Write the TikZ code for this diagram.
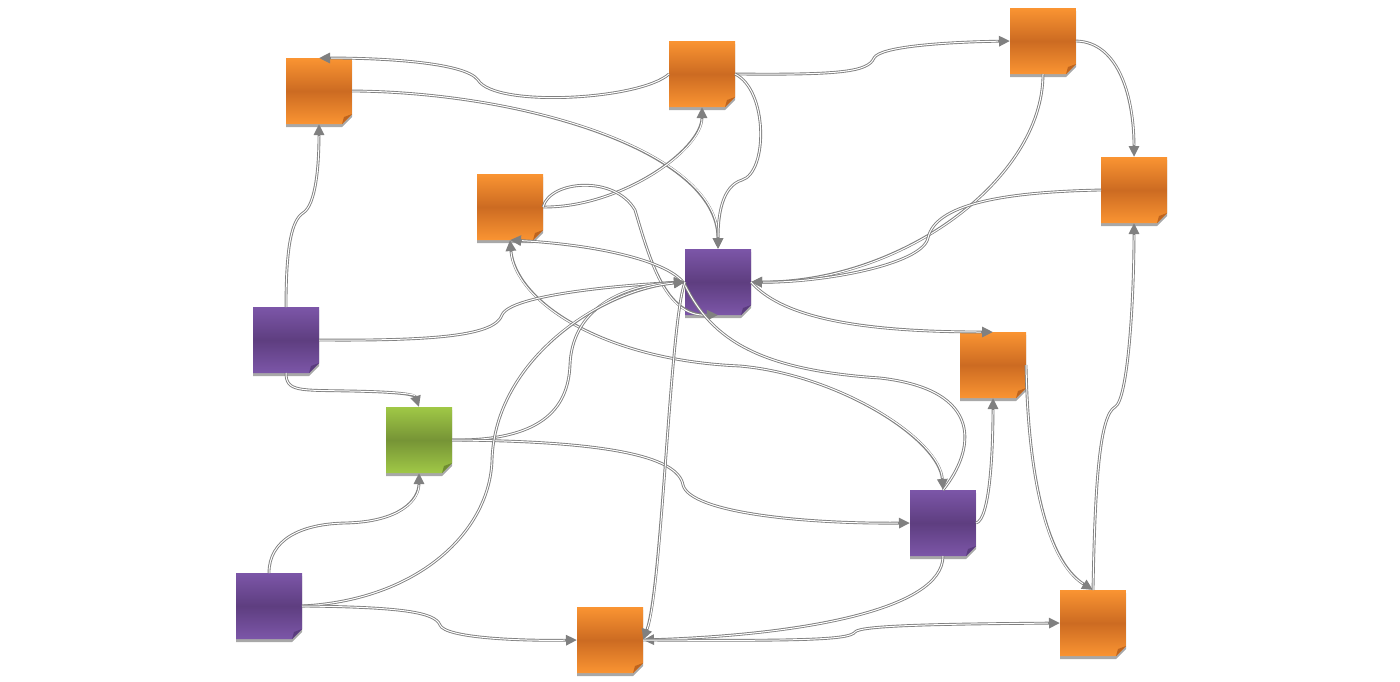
\documentclass[tikz,border=0pt]{standalone}
\usetikzlibrary{arrows.meta}
\pgfdeclarelayer{edges}
\pgfsetlayers{main,edges}
\definecolor{egray}{RGB}{128,128,128}
\definecolor{orT}{RGB}{250,148,50}
\definecolor{orM}{RGB}{204,107,34}
\definecolor{orF}{RGB}{190,100,30}
\definecolor{puT}{RGB}{124,86,168}
\definecolor{puM}{RGB}{94,62,128}
\definecolor{puF}{RGB}{90,60,125}
\definecolor{grT}{RGB}{160,200,70}
\definecolor{grM}{RGB}{118,148,54}
\definecolor{grF}{RGB}{110,140,50}
\definecolor{shd}{RGB}{168,168,168}
\tikzset{
  note/.style={minimum width=66pt, minimum height=66pt, inner sep=0pt, outer sep=0pt},
  conn/.style={draw=egray, line width=2.8pt, -{Triangle[length=11pt,width=10pt]},
    postaction={draw=white, line width=1pt, -, shorten >=12pt}},
  conntwo/.style={draw=egray, line width=2.8pt, {Triangle[length=11pt,width=10pt]}-{Triangle[length=11pt,width=10pt]},
    postaction={draw=white, line width=1pt, -, shorten >=12pt, shorten <=12pt}},
}
\newcommand\drawnote[4]{% name, top color, mid color, fold color
  \fill[shd] ([yshift=-3pt]#1.north west) -- ([yshift=-3pt]#1.north east) -- ([yshift=7pt]#1.south east)
     -- ([xshift=-10pt,yshift=-3pt]#1.south east) -- ([yshift=-3pt]#1.south west) -- cycle;
  \shade[top color=#2, bottom color=#2, middle color=#3] (#1.north west) -- (#1.north east)
     -- ([yshift=10pt]#1.south east) -- ([xshift=-10pt]#1.south east) -- (#1.south west) -- cycle;
  \fill[#4] ([yshift=10pt]#1.south east) -- ([xshift=-10pt]#1.south east) -- ([xshift=-8pt,yshift=7pt]#1.south east) -- cycle;
}
\begin{document}
\begin{tikzpicture}[x=1pt,y=-1pt]
\useasboundingbox (0,0) rectangle (1400,681);
% nodes
\node[note] (A) at (319,91) {};
\node[note] (B) at (702,74) {};
\node[note] (C) at (1043,41) {};
\node[note] (D) at (1134,190) {};
\node[note] (E) at (510,207) {};
\node[note] (F) at (718,282) {};
\node[note] (G) at (286,340) {};
\node[note] (H) at (993,365) {};
\node[note] (I) at (419,440) {};
\node[note] (J) at (943,523) {};
\node[note] (K) at (269,606) {};
\node[note] (L) at (610,640) {};
\node[note] (M) at (1093,623) {};
\drawnote{A}{orT}{orM}{orF}
\drawnote{B}{orT}{orM}{orF}
\drawnote{C}{orT}{orM}{orF}
\drawnote{D}{orT}{orM}{orF}
\drawnote{E}{orT}{orM}{orF}
\drawnote{F}{puT}{puM}{puF}
\drawnote{G}{puT}{puM}{puF}
\drawnote{H}{orT}{orM}{orF}
\drawnote{I}{grT}{grM}{grF}
\drawnote{J}{puT}{puM}{puF}
\drawnote{K}{puT}{puM}{puF}
\drawnote{L}{orT}{orM}{orF}
\drawnote{M}{orT}{orM}{orF}
% connectors
\begin{pgfonlayer}{edges}
\draw[conn] (B.west) .. controls (640,100) and (495,108) .. (478,80) .. controls (465,62) and (380,58) .. (A.north);
\draw[conn] (A.east) .. controls (520,92) and (718,150) .. (F.north);
\draw[conn] (G.north) .. controls (286,245) and (292,220) .. (303,213) .. controls (316,205) and (319,165) .. (A.south);
\draw[conn] (B.east) .. controls (840,75) and (868,72) .. (874,58) .. controls (880,46) and (950,42) .. (C.west);
\draw[conn] (B.east) .. controls (768,90) and (768,172) .. (742,180) .. controls (722,186) and (718,215) .. (F.north);
\draw[conn] (E.east) .. controls (620,208) and (702,150) .. (B.south);
\draw[conn] (E.east) .. controls (550,180) and (615,175) .. (635,210) .. controls (650,260) and (665,316) .. (F.south);
\draw[conn] (J.north) .. controls (975,450) and (985,390) .. (880,378) .. controls (760,370) and (712,340) .. (685,285) .. controls (672,262) and (600,245) .. (E.south);
\draw[conntwo] (J.north) .. controls (940,440) and (840,375) .. (740,366) .. controls (600,360) and (515,300) .. (E.south);
\draw[conn] (G.east) .. controls (440,341) and (495,335) .. (502,315) .. controls (510,295) and (620,285) .. (F.west);
\draw[conn] (G.south) .. controls (286,392) and (300,390) .. (350,391) .. controls (405,392) and (415,395) .. (I.north);
\draw[conn] (I.east) .. controls (540,441) and (568,410) .. (570,365) .. controls (572,310) and (620,285) .. (F.west);
\draw[conn] (I.east) .. controls (600,441) and (678,455) .. (683,485) .. controls (690,512) and (800,524) .. (J.west);
\draw[conn] (K.north) .. controls (269,540) and (300,524) .. (345,523) .. controls (400,522) and (419,500) .. (I.south);
\draw[conn] (K.east) .. controls (420,600) and (490,530) .. (492,460) .. controls (495,360) and (600,290) .. (F.west);
\draw[conn] (K.east) .. controls (400,607) and (435,612) .. (440,625) .. controls (445,638) and (520,641) .. (L.west);
\draw[conn] (F.west) .. controls (670,320) and (662,590) .. (L.east);
\draw[conn] (J.south) .. controls (943,610) and (800,635) .. (L.east);
\draw[conn] (L.east) .. controls (800,641) and (850,640) .. (855,632) .. controls (860,625) and (950,624) .. (M.west);
\draw[conn] (J.east) .. controls (990,520) and (993,450) .. (H.south);
\draw[conn] (H.east) .. controls (1028,470) and (1045,560) .. (M.north);
\draw[conn] (M.north) .. controls (1095,480) and (1100,415) .. (1115,407) .. controls (1128,400) and (1134,300) .. (D.south);
\draw[conn] (C.east) .. controls (1120,42) and (1134,100) .. (D.north);
\draw[conn] (C.south) .. controls (1043,180) and (900,283) .. (F.east);
\draw[conn] (D.west) .. controls (1000,192) and (935,205) .. (928,238) .. controls (922,265) and (820,283) .. (F.east);
\draw[conn] (F.east) .. controls (780,315) and (850,332) .. (H.north);
\end{pgfonlayer}
\end{tikzpicture}
\end{document}
